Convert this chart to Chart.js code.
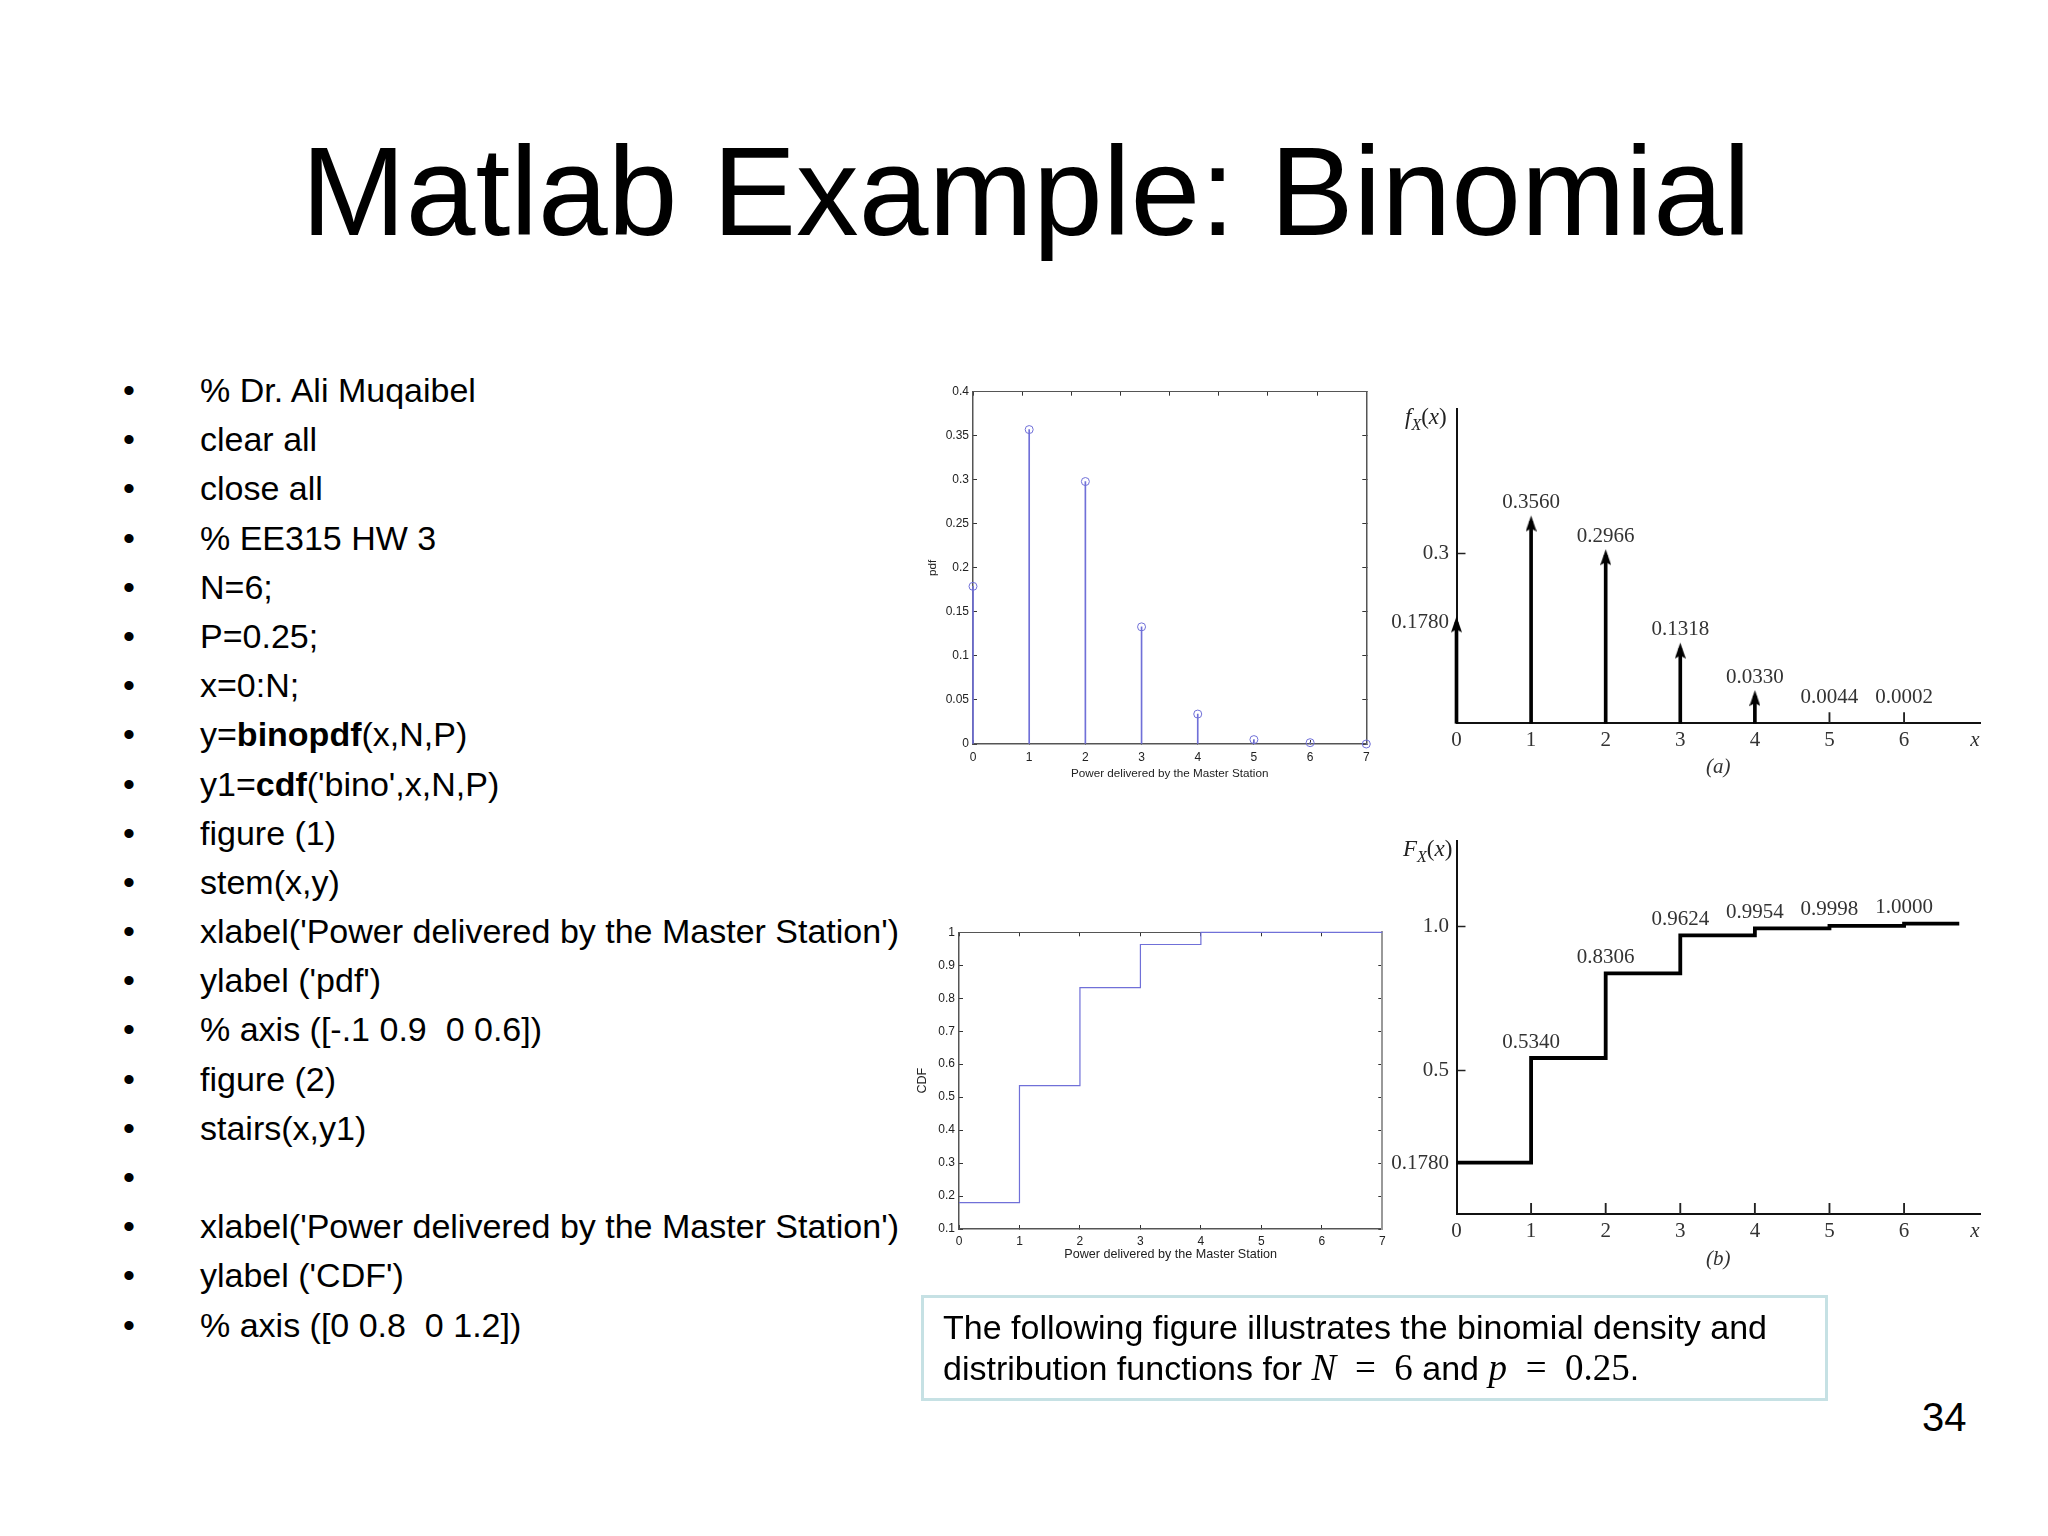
<!DOCTYPE html>
<html>
<head>
<meta charset="utf-8">
<title>Matlab Example: Binomial</title>
<script src="https://cdn.jsdelivr.net/npm/chart.js@4"></script>
<style>
    html, body { margin: 0; padding: 0; background: #fff; }
    body { position: relative; width: 2048px; height: 1536px; overflow: hidden; font-family: "Liberation Sans", Arial, sans-serif; color: #000; }
    canvas { position: absolute; }
    #title { position: absolute; left: 0; top: 117px; width: 2052px; text-align: center; font-size: 125.4px; line-height: 150px; }
    #code { position: absolute; left: 0; top: 366px; }
    #code div { position: relative; height: 49.2px; line-height: 49.2px; font-size: 34px; white-space: pre; padding-left: 200px; }
    #code div::before { content: "•"; position: absolute; left: 123px; }
    #note { position: absolute; left: 921px; top: 1295px; width: 901px; height: 100px; border: 3px solid #c6e1e4; box-sizing: content-box; }
    #note p { position: absolute; left: 19px; top: 9px; margin: 0; font-size: 34px; line-height: 41px; white-space: nowrap; }
    #note .m { font-family: "Liberation Serif", serif; font-size: 37px; line-height: 0; }
    #page { position: absolute; left: 1922px; top: 1393px; font-size: 40px; line-height: 48px; }
    .fn { position: absolute; font-family: "Liberation Serif", serif; font-size: 23px; color: #222; white-space: nowrap; }
    .fn sub { font-size: 16px; line-height: 0; }
</style>
</head>
<body>
<div id="title">Matlab Example: Binomial</div>
<div id="code"></div>
<canvas id="pdfChart" width="520" height="440" style="left:900px;top:370px"></canvas>
<canvas id="densityChart" width="640" height="425" style="left:1380px;top:395px"></canvas>
<canvas id="cdfChart" width="520" height="380" style="left:900px;top:910px"></canvas>
<canvas id="distChart" width="640" height="470" style="left:1380px;top:830px"></canvas>
<div class="fn" style="left:1405px;top:404px"><i>f<sub>X</sub></i>(<i>x</i>)</div>
<div class="fn" style="left:1403px;top:836px"><i>F<sub>X</sub></i>(<i>x</i>)</div>
<div id="note"><p>The following figure illustrates the binomial density and<br>distribution functions for <i class="m">N</i> <span class="m">&nbsp;=&nbsp; 6</span> and <i class="m">p</i> <span class="m">&nbsp;=&nbsp; 0.25</span>.</p></div>
<div id="page">34</div>

<script>
const codeLines = [
    "% Dr. Ali Muqaibel", "clear all", "close all", "% EE315 HW 3", "N=6;", "P=0.25;", "x=0:N;",
    "y=<b>binopdf</b>(x,N,P)", "y1=<b>cdf</b>('bino',x,N,P)", "figure (1)", "stem(x,y)",
    "xlabel('Power delivered by the Master Station')", "ylabel ('pdf')", "% axis ([-.1 0.9  0 0.6])",
    "figure (2)", "stairs(x,y1)", "", "xlabel('Power delivered by the Master Station')",
    "ylabel ('CDF')", "% axis ([0 0.8  0 1.2])"
];

// top left: matlab stem plot
const pdfX = [0, 1, 2, 3, 4, 5, 6, 7];
const pdfY = [0.179, 0.357, 0.298, 0.133, 0.034, 0.005, 0.0015, 0];
const pdfTicks = [0, 0.05, 0.1, 0.15, 0.2, 0.25, 0.3, 0.35, 0.4];
const pdfTickLabels = ["0", "0.05", "0.1", "0.15", "0.2", "0.25", "0.3", "0.35", "0.4"];

// bottom left: matlab stairs plot
const cdfX = [0, 1, 2, 3, 4, 5, 6, 7];
const cdfY = [0.18, 0.535, 0.832, 0.963, 1, 1, 1, 1];
const cdfTicks = [0.1, 0.2, 0.3, 0.4, 0.5, 0.6, 0.7, 0.8, 0.9, 1];
const cdfTickLabels = ["0.1", "0.2", "0.3", "0.4", "0.5", "0.6", "0.7", "0.8", "0.9", "1"];

const matlabXTicks = [0, 1, 2, 3, 4, 5, 6, 7];

// top right: textbook density figure
const densityX = [0, 1, 2, 3, 4];
const densityY = [0.178, 0.356, 0.2966, 0.1318, 0.048];
const densitySmallX = [5, 6];
const densitySmallY = [0.019, 0.019];
const densityLabels = ["0.3560", "0.2966", "0.1318", "0.0330", "0.0044", "0.0002"];
const densityLabelX = [1, 2, 3, 4, 5, 6];
const densityLabelY = [0.356, 0.2966, 0.1318, 0.048, 0.012, 0.012];
const densityTicks = [0.178, 0.3];
const densityTickLabels = ["0.1780", "0.3"];

// bottom right: textbook distribution figure
const distX = [0, 1, 2, 3, 4, 5, 6, 6.74];
const distY = [0.18, 0.5435, 0.838, 0.97, 0.994, 1.003, 1.011, 1.011];
const distMarkX = [1, 2, 3, 4, 5, 6];
const distMarkY = [0.038, 0.038, 0.038, 0.038, 0.038, 0.038];
const distLabels = ["0.5340", "0.8306", "0.9624", "0.9954", "0.9998", "1.0000"];
const distLabelX = [1, 2, 3, 4, 5, 6];
const distLabelY = [0.5435, 0.838, 0.97, 0.994, 1.003, 1.011];
const distTicks = [0.178, 0.5, 1];
const distTickLabels = ["0.1780", "0.5", "1.0"];

const bookXTicks = [0, 1, 2, 3, 4, 5, 6, 6.95];
const bookXLabels = ["0", "1", "2", "3", "4", "5", "6", "x"];

const matlabBlue = "#7070d8";
const bookFont = "Liberation Serif";

function toPoints(xs, ys) {
    return xs.map((x, i) => ({ x: x, y: ys[i] }));
}

function useTicks(values) {
    return scale => { scale.ticks = values.map(v => ({ value: v })); };
}

// pin the scale size and drop the label padding so the plot box lands where we want it
function fixHeight(h) {
    return s => { s.height = h; s.paddingLeft = 0; s.paddingRight = 0; s.paddingTop = 0; s.paddingBottom = 0; };
}

function fixWidth(w) {
    return s => { s.width = w; s.paddingLeft = 0; s.paddingRight = 0; s.paddingTop = 0; s.paddingBottom = 0; };
}

// arrow head for the density figure, tip sits a little above the value
function makeArrow() {
    const c = document.createElement("canvas");
    c.width = 11;
    c.height = 24;
    const g = c.getContext("2d");
    g.fillStyle = "#000";
    g.beginPath();
    g.moveTo(5.5, 6);
    g.lineTo(11, 22);
    g.lineTo(5.5, 19);
    g.lineTo(0, 22);
    g.closePath();
    g.fill();
    return c;
}

// inner tick marks on all four sides, like matlab does
function matlabScales(o) {
    const inner = { drawOnChartArea: false, drawTicks: true, tickLength: -4, tickColor: "#333", tickWidth: 1 };
    return {
        x: {
            type: "linear", min: 0, max: 7, position: "bottom", offset: false,
            afterBuildTicks: useTicks(matlabXTicks),
            afterFit: fixHeight(o.bottom),
            grid: { ...inner, offset: false },
            border: { color: "#555", width: 1.5 },
            ticks: { autoSkip: false, maxRotation: 0, padding: o.xPad, color: "#222", font: { size: o.font } },
            title: { display: true, text: "Power delivered by the Master Station", color: "#222", font: { size: o.titleFont }, padding: { top: 0, bottom: o.titleBottom } }
        },
        y: {
            type: "linear", min: o.yMin, max: o.yMax, position: "left",
            afterBuildTicks: useTicks(o.yTicks),
            afterFit: fixWidth(o.left),
            grid: inner,
            border: { color: "#555", width: 1.5 },
            ticks: { autoSkip: false, padding: 8, color: "#222", font: { size: o.font }, callback: (v, i) => o.yLabels[i] },
            title: { display: true, text: o.yTitle, color: "#222", font: { size: o.titleFont }, padding: { top: o.titleLeft, bottom: 0 } }
        },
        xTop: {
            axis: "x", type: "linear", min: 0, max: 7, position: "top",
            afterBuildTicks: useTicks(matlabXTicks),
            afterFit: fixHeight(0),
            grid: inner,
            border: { color: "#555", width: 1 },
            ticks: { display: false }
        },
        yRight: {
            axis: "y", type: "linear", min: o.yMin, max: o.yMax, position: "right",
            afterBuildTicks: useTicks(o.yTicks),
            afterFit: fixWidth(0),
            grid: inner,
            border: { color: o.rightColor, width: o.rightWidth },
            ticks: { display: false }
        }
    };
}

function bookScales(o) {
    const innerY = ctx => ctx.tick.value < 0.2 ? "rgba(0,0,0,0)" : "#222";
    return {
        x: {
            type: "linear", min: 0, max: 7.018, position: "bottom", offset: false,
            afterBuildTicks: useTicks(bookXTicks),
            afterFit: fixHeight(o.bottom),
            grid: { drawOnChartArea: false, drawTicks: false, offset: false },
            border: { color: "#111", width: 2 },
            ticks: {
                autoSkip: false, maxRotation: 0, padding: 5, color: "#333",
                font: ctx => ({ family: bookFont, size: 21, style: ctx.index === 7 ? "italic" : "normal" }),
                callback: (v, i) => bookXLabels[i]
            },
            title: { display: true, text: o.caption, color: "#333", font: { family: bookFont, size: 21, style: "italic" }, padding: { top: 0, bottom: o.captionBottom } }
        },
        y: {
            type: "linear", min: 0, max: o.yMax, position: "left",
            afterBuildTicks: useTicks(o.yTicks),
            afterFit: fixWidth(o.left),
            grid: { drawOnChartArea: false, drawTicks: true, tickLength: -9, tickColor: innerY, tickWidth: 1.5 },
            border: { color: "#111", width: 2 },
            ticks: { autoSkip: false, padding: 16.5, color: "#333", font: { family: bookFont, size: 21 }, callback: (v, i) => o.yLabels[i] }
        }
    };
}

// value text above each stem or step
function valueLabels(texts, xs, ys, offsets) {
    return {
        id: "valueLabels",
        afterDatasetsDraw(chart) {
            const g = chart.ctx;
            g.save();
            g.font = "21px '" + bookFont + "'";
            g.fillStyle = "#333";
            g.textAlign = "center";
            g.textBaseline = "middle";
            texts.forEach((t, i) => {
                g.fillText(t, chart.scales.x.getPixelForValue(xs[i]), chart.scales.y.getPixelForValue(ys[i]) - offsets);
            });
            g.restore();
        }
    };
}

const baseOptions = {
    responsive: false,
    animation: false,
    plugins: { legend: { display: false }, tooltip: { enabled: false } }
};

function showCode() {
    document.getElementById("code").innerHTML = codeLines.map(l => "<div>" + l + "</div>").join("");
}

function drawPdf() {
    new Chart(document.getElementById("pdfChart"), {
        type: "bar",
        data: {
            datasets: [
                { type: "bar", data: toPoints(pdfX, pdfY), backgroundColor: matlabBlue, barThickness: 1, grouped: false, clip: false },
                { type: "scatter", data: toPoints(pdfX, pdfY), pointStyle: "circle", pointRadius: 4, borderColor: matlabBlue, borderWidth: 1, backgroundColor: "rgba(0,0,0,0)", clip: false }
            ]
        },
        options: {
            ...baseOptions,
            layout: { autoPadding: false, padding: { top: 21.7, right: 53.7, left: 0, bottom: 0 } },
            scales: matlabScales({
                yMin: 0, yMax: 0.4, yTicks: pdfTicks, yLabels: pdfTickLabels, yTitle: "pdf",
                left: 73, bottom: 66, font: 12, titleFont: 11.7, xPad: 10, titleBottom: 29, titleLeft: 26,
                rightColor: "#555", rightWidth: 1.5
            })
        }
    });
}

function drawCdf() {
    new Chart(document.getElementById("cdfChart"), {
        type: "line",
        data: {
            datasets: [
                { data: toPoints(cdfX, cdfY), stepped: "before", borderColor: matlabBlue, borderWidth: 1.2, pointRadius: 0, fill: false, clip: false }
            ]
        },
        options: {
            ...baseOptions,
            layout: { autoPadding: false, padding: { top: 22.3, right: 37.7, left: 0, bottom: 0 } },
            scales: matlabScales({
                yMin: 0.1, yMax: 1, yTicks: cdfTicks, yLabels: cdfTickLabels, yTitle: "CDF",
                left: 59, bottom: 61, font: 12, titleFont: 12.6, xPad: 9, titleBottom: 28, titleLeft: 15,
                rightColor: "#999", rightWidth: 2
            })
        }
    });
}

function drawDensity() {
    new Chart(document.getElementById("densityChart"), {
        type: "bar",
        data: {
            datasets: [
                { type: "bar", data: toPoints(densityX, densityY), backgroundColor: "#000", barThickness: 3, grouped: false, clip: false },
                { type: "bar", data: toPoints(densitySmallX, densitySmallY), backgroundColor: "#222", barThickness: 1.2, grouped: false },
                { type: "scatter", data: toPoints(densityX, densityY), pointStyle: makeArrow(), pointRadius: 5, clip: false }
            ]
        },
        options: {
            ...baseOptions,
            layout: { autoPadding: false, padding: { top: 14, right: 40, left: 0, bottom: 0 } },
            scales: bookScales({
                yMax: 0.5546, yTicks: densityTicks, yLabels: densityTickLabels,
                left: 76.5, bottom: 96.7, caption: "(a)", captionBottom: 40
            })
        },
        plugins: [valueLabels(densityLabels, densityLabelX, densityLabelY, 19)]
    });
}

function drawDist() {
    new Chart(document.getElementById("distChart"), {
        type: "bar",
        data: {
            datasets: [
                { type: "line", data: toPoints(distX, distY), stepped: "before", borderColor: "#000", borderWidth: 3.8, borderJoinStyle: "miter", pointRadius: 0, fill: false, clip: false },
                { type: "bar", data: toPoints(distMarkX, distMarkY), backgroundColor: "#222", barThickness: 1.2, grouped: false }
            ]
        },
        options: {
            ...baseOptions,
            layout: { autoPadding: false, padding: { top: 11, right: 40, left: 0, bottom: 0 } },
            scales: bookScales({
                yMax: 1.298, yTicks: distTicks, yLabels: distTickLabels,
                left: 76.5, bottom: 85.7, caption: "(b)", captionBottom: 28
            })
        },
        plugins: [valueLabels(distLabels, distLabelX, distLabelY, 16)]
    });
}

showCode();
drawPdf();
drawDensity();
drawCdf();
drawDist();
</script>
</body>
</html>
